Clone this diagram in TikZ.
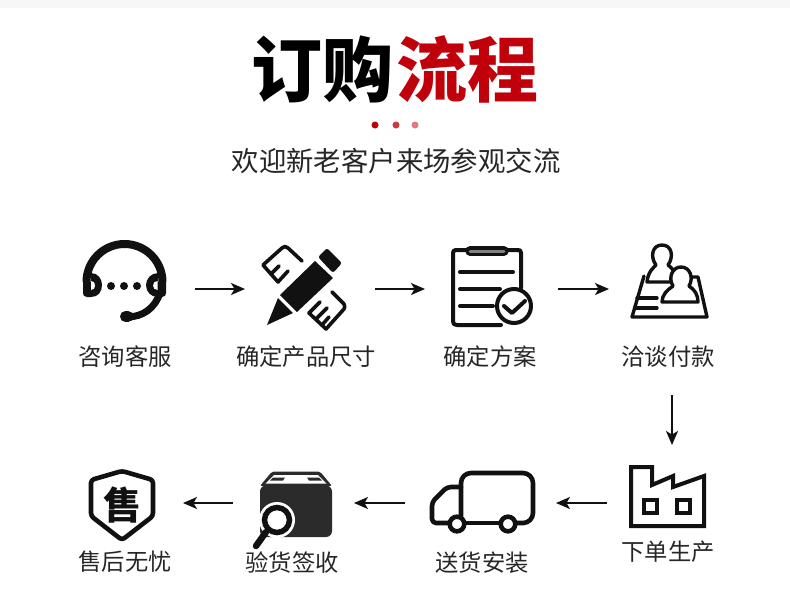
\documentclass[tikz,border=0pt]{standalone}
\usepackage{fontspec}
\usetikzlibrary{arrows.meta}
\setmainfont{Noto Sans CJK SC}
\newfontfamily\titlefont{Noto Sans CJK SC Black}
\definecolor{ink}{HTML}{111111}
\definecolor{dark}{HTML}{2B2B2B}
\definecolor{brand}{HTML}{C0000B}
\definecolor{band}{HTML}{F7F7F7}
\tikzset{
  iconbox/.style={inner sep=0pt,outer sep=0pt,minimum height=84pt},
  flow/.style={draw=ink,line width=1.5pt,-{Stealth[length=14pt,width=12pt,inset=3.5pt]}},
  caption/.style={inner sep=0pt,font=\fontsize{23.3}{25}\selectfont,text=black!85},
  ttl/.style={inner sep=0pt,font=\titlefont\fontsize{71}{74}\selectfont},
  ln/.style={draw=ink,line width=4pt,line cap=round,line join=round},
  ln3/.style={draw=ink,line width=3.4pt,line cap=round,line join=round},
}
\begin{document}
\begin{tikzpicture}[x=1pt,y=-1pt]
\useasboundingbox (0,0) rectangle (790,592);
\fill[white] (0,0) rectangle (790,592);
\fill[band] (0,0) rectangle (790,8);
% title
\node[ttl,text=black] (t1) at (322.5,69) {订购};
\node[ttl,text=brand] (t2) at (467.5,69) {流程};
\fill[brand] (375,125) circle (3.5);
\fill[brand!78!white] (396,125) circle (3.5);
\fill[brand!52!white] (415,125) circle (3.5);
\node[inner sep=0pt,font=\fontsize{27.4}{30}\selectfont,text=black!85] (sub) at (396,161) {欢迎新老客户来场参观交流};
% invisible icon boxes
\node[iconbox,minimum width=83pt] (consult) at (124.5,289) {};
\node[iconbox,minimum width=83pt] (size) at (303.5,289) {};
\node[iconbox,minimum width=80pt] (plan) at (493,289) {};
\node[iconbox,minimum width=80pt] (pay) at (672,289) {};
\node[iconbox,minimum width=80pt] (factory) at (672,503) {};
\node[iconbox,minimum width=105pt] (truck) at (482.5,503) {};
\node[iconbox,minimum width=84pt] (inspect) at (292,503) {};
\node[iconbox,minimum width=64pt] (shield) at (122,503) {};
% headset
\draw[ink,line width=8pt] (86.5,282) arc[start angle=180,end angle=360,radius=38];
\fill[ink] (83,282) -- (91,282) -- (91,273) .. controls (98,273) and (102,279) .. (102,285) .. controls (102,292) and (98,297) .. (91,297) -- (87,297) .. controls (84,297) and (83,295) .. (83,293) -- cycle;
\fill[white] (91,281) .. controls (94,281) and (95,283) .. (95,285.5) .. controls (95,288) and (94,290) .. (91,290) -- cycle;
\fill[ink] (166,282) -- (158,282) -- (158,273) .. controls (151,273) and (146,279) .. (146,285) .. controls (146,292) and (151,297) .. (158,297) -- (162,297) .. controls (165,297) and (166,295) .. (166,293) -- cycle;
\fill[white] (157.5,281) .. controls (155,281) and (153,283) .. (153,285.5) .. controls (153,288) and (155,290) .. (157.5,290) -- cycle;
\draw[ink,line width=7pt] (160,293) .. controls (155,308) and (143,317) .. (127,317);
\draw[ink,line width=11pt,line cap=round] (125.5,316.5) -- (128,316.5);
\foreach \px in {111,124,137} \fill[ink] (\px,286) circle (4);
% pencil and ruler
\draw[ln,line width=3.6pt] (302,261) -- (288,248) .. controls (286,246) and (284,246) .. (282,248) -- (263,265) -- (278,282) -- (288,271);
\draw[ln,line width=3.6pt] (271,274) -- (279,266);
\draw[ln,line width=3.6pt] (332,292) -- (344,304) .. controls (345,306) and (345,307) .. (344,309) -- (326,329) -- (309,313) -- (320,302);
\draw[ln,line width=3.6pt] (316,319) -- (327,308) (322,325) -- (329,317);
\fill[ink] (280,295) -- (315,261) -- (333,278) -- (297,312) -- cycle;
\fill[ink] (267,325) -- (278,298) -- (293,313) -- cycle;
\fill[ink,rounded corners=2.5pt] (318,257) -- (327,248) -- (342,263) -- (333,273) -- cycle;
% clipboard
\draw[ln] (521,288) -- (521,253) .. controls (521,250) and (520,250) .. (517,250) -- (456,250) .. controls (454,250) and (453,251) .. (453,253) -- (453,321) .. controls (453,324) and (454,325) .. (457,325) -- (501,325);
\draw[ink,line width=9.5pt,line cap=round] (470,251) -- (504,251);
\draw[black!50,line width=3pt,line cap=round] (470,251) -- (504,251);
\draw[ln] (460,272) -- (513,272) (460,289) -- (500,289) (460,306) -- (493,306);
\draw[ln,fill=white] (514,306) circle (17);
\draw[ln] (504,306) -- (512,313) -- (525,301);
% people at table
\draw[ln3] (644,276) -- (632,317) -- (707,317) -- (698,277) -- (690,277);
\draw[ln3] (637,298) -- (657,298) (635,308) -- (657,308);
\draw[ln3,fill=white] (647,282) .. controls (648,272) and (653,268) .. (656,265) .. controls (650,257) and (652,245) .. (662,245) .. controls (672,245) and (674,257) .. (668,265) .. controls (672,268) and (676,272) .. (677,282) -- cycle;
\draw[ln3,fill=white] (662,302) .. controls (662,295) and (667,290) .. (673,286) .. controls (668,278) and (672,267) .. (681,267) .. controls (690,267) and (694,278) .. (689,286) .. controls (695,290) and (698,295) .. (698,302) -- cycle;
% factory
\draw[ln,line cap=butt,line join=miter] (631,467) -- (652,467) -- (652,485) -- (673,476) -- (673,487) -- (704,476) -- (704,526) -- (631,526) -- cycle;
\draw[ln,line join=miter] (644,500) rectangle (657,513) (677,500) rectangle (690,513);
% truck
\draw[ln,line width=4.6pt,rounded corners=10pt] (461,516) -- (461,473) -- (533,473) -- (533,523) -- (515,523);
\draw[ln,line width=4.6pt] (465,523) -- (500,523);
\draw[ln,line width=4.6pt,rounded corners=4pt] (461,487) -- (447,487) -- (432,502) -- (432,523) -- (449,523);
\draw[ln,line width=4.6pt,fill=white] (457,524) circle (7.3) (508,524) circle (7.3);
% box and magnifier
\fill[dark,rounded corners=6pt] (260,485.5) -- (332,485.5) -- (332,537) -- (260,537) -- cycle;
\fill[dark,rounded corners=2pt] (260,486) -- (272,471.5) -- (320,471.5) -- (332,486) -- cycle;
\fill[white] (265.5,483.5) -- (274,475) -- (318,475) -- (326.5,483.5) -- cycle;
\fill[dark] (273,477.5) -- (285,477.5) -- (283,480.5) -- (270,480.5) -- cycle;
\fill[dark] (307,477.5) -- (319,477.5) -- (322,480.5) -- (309,480.5) -- cycle;
\fill[white] (277,520) circle (18);
\draw[ink,line width=5.5pt,fill=white] (277,520) circle (12.5);
\draw[ink,line width=6.5pt,line cap=round] (266,532) -- (256,546);
% shield
\draw[ln,line width=4.6pt,rounded corners=3pt] (122,471) -- (153,480) -- (153,516) -- (122,540) -- (91,516) -- (91,480) -- cycle;
\node[inner sep=0pt,font=\bfseries\fontsize{38}{39}\selectfont,text=ink] (shieldmark) at (122,505) {售};
% captions
\node[caption] (c1) at (125,357) {咨询客服};
\node[caption] (c2) at (306,357) {确定产品尺寸};
\node[caption] (c3) at (490,357) {确定方案};
\node[caption] (c4) at (668,357) {洽谈付款};
\node[caption] (c5) at (668,552) {下单生产};
\node[caption] (c6) at (482,563) {送货安装};
\node[caption] (c7) at (292,563) {验货签收};
\node[caption] (c8) at (125,562) {售后无忧};
% connectors
\draw[flow,shorten <=29pt,shorten >=17pt] (consult) -- (size);
\draw[flow,shorten <=30pt,shorten >=28pt] (size) -- (plan);
\draw[flow,shorten <=25pt,shorten >=23pt] (plan) -- (pay);
\draw[flow,shorten <=64pt,shorten >=16pt] (pay.south) -- (factory.north);
\draw[flow,shorten <=25pt,shorten >=21pt] (factory) -- (truck);
\draw[flow,shorten <=25pt,shorten >=20pt] (truck) -- (inspect);
\draw[flow,shorten <=17pt,shorten >=29pt] (inspect) -- (shield);
\end{tikzpicture}
\end{document}
